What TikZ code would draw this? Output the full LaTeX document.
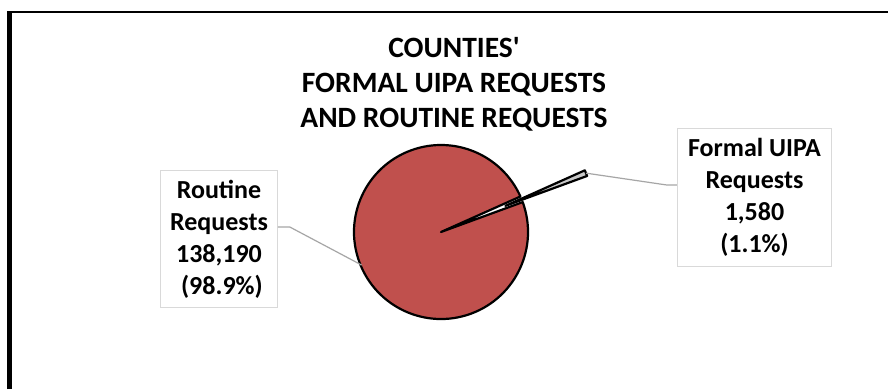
\documentclass[tikz,border=0pt]{standalone}
\usepackage{fontspec}
\usetikzlibrary{calc}
\newfontfamily\carl{Carlito}
\definecolor{pied}{RGB}{192,80,77}
\definecolor{leader}{RGB}{166,166,166}
\definecolor{boxline}{RGB}{217,217,217}
\definecolor{slicegray}{RGB}{200,200,200}
\begin{document}
\begin{tikzpicture}[x=1pt,y=-1pt,
  lbl/.style={draw=boxline, line width=1, fill=white, align=center,
    font=\carl\bfseries\fontsize{26}{32}\selectfont, inner sep=0pt},
  ttl/.style={align=center, font=\carl\bfseries\fontsize{29.5}{35}\selectfont, inner sep=0pt},
  leaderline/.style={draw=leader, line width=1.2},
  slice/.style={draw=black, line width=2.2, line join=round}]
\useasboundingbox (0,0) rectangle (888,389);
\fill[white] (0,0) rectangle (888,389);
\draw[line width=4.6] (9.6,389) -- (9.6,12);
\draw[line width=2.4] (7.3,12) -- (888,12);
% pie
\coordinate (C) at (441,232);
\draw[slice, fill=pied] (C) -- ++(-20.1:87) arc[start angle=-20.1, end angle=335.9, radius=87] -- cycle;
\coordinate (A) at ($(C)+(-22.1:69.5)$);
\draw[slice, fill=slicegray] (A) -- ++(-24.1:87) arc[start angle=-24.1, end angle=-20.1, radius=87] -- cycle;
\coordinate (ftip) at ($(C)+(-22.1:156.5)$);
\coordinate (rtip) at ($(C)+(157.4:86)$);
% title
\node[ttl] (title) at (454,84) {COUNTIES'\\FORMAL UIPA REQUESTS\\AND ROUTINE REQUESTS};
% labels
\node[lbl, minimum width=116.6, minimum height=137] (routine) at (219,239.2)
  {Routine\\Requests\\138,190\\~(98.9\%)};
\node[lbl, minimum width=154.4, minimum height=137.7] (formal) at (754.5,197.2)
  {Formal UIPA\\Requests\\1,580\\(1.1\%)};
% leader lines
\draw[leaderline] ([yshift=12.2pt]routine.east) -- ++(12,0) -- (rtip);
\draw[leaderline] ([yshift=12.2pt]formal.west) -- ++(-10,0) -- (ftip);
\end{tikzpicture}
\end{document}
